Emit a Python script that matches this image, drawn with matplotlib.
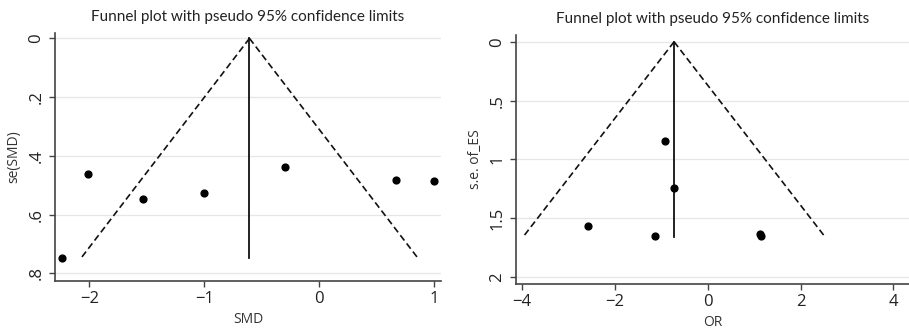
import numpy as np
import matplotlib
matplotlib.use("Agg")
import matplotlib.pyplot as plt

plt.rcParams['font.family'] = ['Open Sans', 'DejaVu Sans']

# left panel: SMD
smd = [-2.235, -2.01, -1.53, -1.0, -0.30, 0.665, 1.0]
se_smd = [0.746, 0.463, 0.546, 0.526, 0.437, 0.482, 0.484]
smd_pooled = -0.607
smd_se_max = 0.746
smd_yticks = [0, 0.2, 0.4, 0.6, 0.8]
smd_ylabels = ['0', '.2', '.4', '.6', '.8']
smd_xticks = [-2, -1, 0, 1]

# right panel: OR
or_es = [-0.93, -0.73, -2.57, -1.13, 1.13, 1.14]
se_or = [0.843, 1.245, 1.567, 1.649, 1.635, 1.655]
or_pooled = -0.725
or_se_max = 1.66
or_yticks = [0, 0.5, 1, 1.5, 2]
or_ylabels = ['0', '.5', '1', '1.5', '2']
or_xticks = [-4, -2, 0, 2, 4]

title = 'Funnel plot with pseudo 95% confidence limits'

fig = plt.figure(figsize=(9.09, 3.31), dpi=100)
ax1 = fig.add_axes([0.0605, 0.151, 0.4246, 0.749])
ax2 = fig.add_axes([0.5677, 0.142, 0.432, 0.752])


def funnel(ax, x, y, pooled, semax, yt, yl, xt, xlim, ylim, xlabel, ylabel):
    for v in yt:
        ax.axhline(v, color='#e6e6e6', lw=0.9, zorder=0)
    s = np.array([0, semax])
    ax.plot(pooled - 1.96 * s, s, color='#111111', ls=(0, (4, 2.2)), lw=1.2)
    ax.plot(pooled + 1.96 * s, s, color='#111111', ls=(0, (4, 2.2)), lw=1.2)
    ax.plot([pooled, pooled], [0, semax], color='#111111', lw=1.3)
    ax.scatter(x, y, s=24, color='black', zorder=3)
    ax.set_xlim(*xlim)
    ax.set_ylim(*ylim)
    ax.set_yticks(yt)
    ax.set_yticklabels(yl, rotation=90, va='center')
    ax.set_xticks(xt)
    ax.set_xticklabels([str(t).replace('-', '\u2212') for t in xt])
    ax.set_xlabel(xlabel, fontsize=10, color='#333333', labelpad=3)
    ax.set_ylabel(ylabel, fontsize=10, color='#333333', labelpad=5)
    ax.set_title(title, fontsize=11, color='#222222', pad=9,
                 family=['Lato', 'DejaVu Sans'])
    for sp in ['top', 'right']:
        ax.spines[sp].set_visible(False)
    for sp in ['left', 'bottom']:
        ax.spines[sp].set_color('#444444')
        ax.spines[sp].set_linewidth(1.2)
    ax.tick_params(direction='out', length=4, width=1, colors='#444444',
                   labelsize=12, labelcolor='#222222')


funnel(ax1, smd, se_smd, smd_pooled, smd_se_max, smd_yticks, smd_ylabels,
       smd_xticks, (-2.30, 1.06), (0.826, -0.018), 'SMD', 'se(SMD)')
funnel(ax2, or_es, se_or, or_pooled, or_se_max, or_yticks, or_ylabels,
       or_xticks, (-4.13, 4.33), (2.06, -0.057), 'OR', 's.e. of_ES')

fig.savefig('out.png', dpi=100)
